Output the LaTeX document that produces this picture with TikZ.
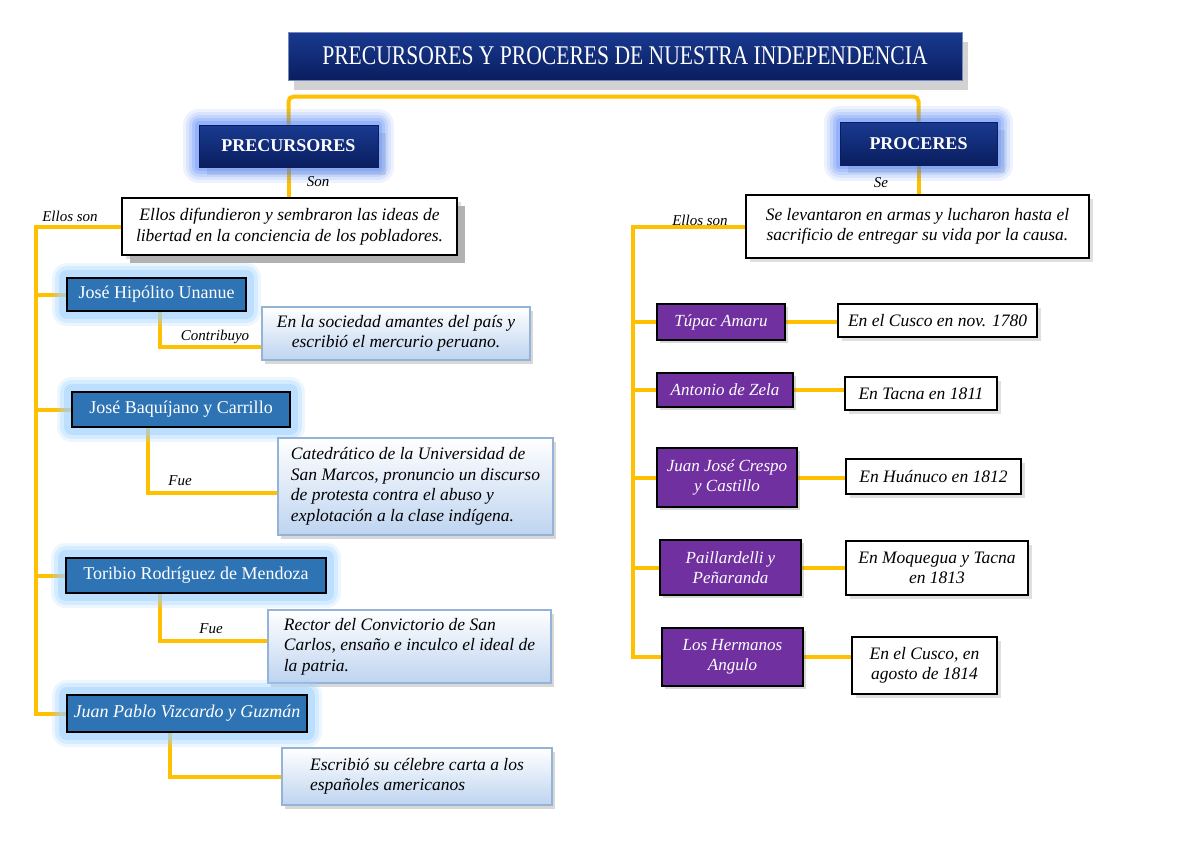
\documentclass[tikz,border=0pt]{standalone}
\usepackage{fontspec}
\setmainfont{Liberation Serif}
\newfontfamily\titlefont[FakeStretch=0.8]{Liberation Serif}
\usetikzlibrary{shadows,backgrounds}
\definecolor{navy}{RGB}{10,30,95}
\definecolor{navytop}{RGB}{25,58,145}
\definecolor{glowblue}{RGB}{80,130,250}
\definecolor{glowlight}{RGB}{160,210,255}
\definecolor{namefill}{RGB}{46,116,181}
\definecolor{purp}{RGB}{112,48,160}
\definecolor{gold}{RGB}{255,192,0}
\definecolor{paleblue}{RGB}{190,212,240}
\definecolor{edgeblue}{RGB}{149,179,215}
\tikzset{>=stealth,
  link/.style={draw=gold, line width=4pt},
  glow/.style={preaction={draw=#1, line width=32pt, opacity=0.1, line join=round},
    preaction={draw=#1, line width=26pt, opacity=0.12, line join=round},
    preaction={draw=#1, line width=20pt, opacity=0.15, line join=round},
    preaction={draw=#1, line width=14pt, opacity=0.2, line join=round},
    preaction={draw=#1, line width=8pt, opacity=0.25, line join=round}},
  halo/.style={preaction={draw=#1, line width=30pt, opacity=0.2, line join=round},
    preaction={draw=#1, line width=24pt, opacity=0.3, line join=round},
    preaction={draw=#1, line width=16pt, opacity=0.45, line join=round}},
  headbox/.style={drop shadow={shadow xshift=8pt, shadow yshift=-8pt, opacity=0.2},
    glow=glowblue, draw=navy, line width=0.8pt, top color=navytop, bottom color=navy,
    text=white, font=\fontsize{18}{21}\selectfont\bfseries},
  namebox/.style={halo=glowlight, draw=black, line width=1.6pt, fill=namefill,
    text=white, font=\fontsize{18}{21}\selectfont},
  factbox/.style={drop shadow={shadow xshift=3pt, shadow yshift=-3pt, opacity=0.3},
    draw=black, line width=1.6pt, fill=purp, text=white, align=center,
    font=\fontsize{17}{20}\selectfont\itshape},
  descbox/.style={drop shadow={shadow xshift=3pt, shadow yshift=-4pt, opacity=0.3},
    draw=edgeblue, line width=1.4pt, top color=white, bottom color=paleblue,
    font=\fontsize{17.5}{20.5}\selectfont\itshape},
  whitebox/.style={drop shadow={shadow xshift=4pt, shadow yshift=-4pt, opacity=0.25},
    draw=black, line width=1.4pt, fill=white, align=center,
    font=\fontsize{17.5}{20.5}\selectfont\itshape},
  tag/.style={font=\fontsize{15}{17}\selectfont\itshape}
}
\begin{document}
\begin{tikzpicture}[x=1pt, y=-1pt]
    \useasboundingbox (0,0) rectangle (1200,849);
    \node[drop shadow={shadow xshift=6pt, shadow yshift=-10pt, fill=gray!70, opacity=0.5},
      draw=navytop!60!white, line width=1pt, top color=navytop, bottom color=navy,
      minimum width=674, minimum height=48, text=white,
      font=\titlefont\fontsize{27}{30}\selectfont] (title) at (625,56)
      {PRECURSORES Y PROCERES DE NUESTRA INDEPENDENCIA};
    \node[headbox, minimum width=179, minimum height=42] (prec) at (288.5,146) {PRECURSORES};
    \node[headbox, minimum width=157, minimum height=43] (proc) at (918.5,143.5) {PROCERES};
    \node[whitebox, drop shadow={shadow xshift=8pt, shadow yshift=-8pt, fill=gray!60, opacity=1},
      minimum width=335, minimum height=57] (pdesc) at (289.5,226.5)
      {Ellos difundieron y sembraron las ideas de\\ libertad en la conciencia de los pobladores.};
    \node[whitebox, minimum width=343, minimum height=63] (rdesc) at (917.5,226.5)
      {Se levantaron en armas y lucharon hasta el\\ sacrificio de entregar su vida por la causa.};

    \node[namebox, minimum width=179, minimum height=33] (unanue) at (156.5,294.5) {José Hipólito Unanue};
    \node[descbox, align=center, minimum width=268, minimum height=53] (unanueD) at (396,333.5)
      {En la sociedad amantes del país y\\ escribió el mercurio peruano.};
    \node[namebox, minimum width=218, minimum height=35] (baqui) at (181,409.5) {José Baquíjano y Carrillo};
    \node[descbox, align=left, minimum width=275, minimum height=97] (baquiD) at (415.5,486.5)
      {Catedrático de la Universidad de\\ San Marcos, pronuncio un discurso\\ de protesta contra el abuso y\\ explotación a la clase indígena.};
    \node[namebox, minimum width=260, minimum height=35] (toribio) at (196,575.5) {Toribio Rodríguez de Mendoza};
    \node[descbox, align=left, minimum width=283, minimum height=73] (toribioD) at (409.5,646.5)
      {Rector del Convictorio de San\\ Carlos, ensaño e inculco el ideal de\\ la patria.};
    \node[namebox, minimum width=240, minimum height=37] (vizcardo) at (187,713.5) {\itshape Juan Pablo Vizcardo y Guzmán};
    \node[descbox, align=left, minimum width=270, minimum height=57] (vizcardoD) at (417,776.5)
      {Escribió su célebre carta a los\\ españoles americanos};

    \node[factbox, minimum width=128, minimum height=36] (tupac) at (721,322) {Túpac Amaru};
    \node[whitebox, minimum width=199, minimum height=33] (tupacD) at (937.5,320.5) {En el Cusco en nov. 1780};
    \node[factbox, minimum width=136, minimum height=34] (zela) at (725,390) {Antonio de Zela};
    \node[whitebox, minimum width=152, minimum height=33] (zelaD) at (921,393.5) {En Tacna en 1811};
    \node[factbox, minimum width=140, minimum height=59] (crespo) at (727,477.5) {Juan José Crespo\\ y Castillo};
    \node[whitebox, minimum width=175, minimum height=35] (crespoD) at (933.5,476.5) {En Huánuco en 1812};
    \node[factbox, minimum width=141, minimum height=55] (paill) at (730.5,567.5) {Paillardelli y\\ Peñaranda};
    \node[whitebox, minimum width=182, minimum height=54] (paillD) at (937,568) {En Moquegua y Tacna\\ en 1813};
    \node[factbox, minimum width=141, minimum height=58] (angulo) at (732.5,657) {Los Hermanos\\ Angulo};
    \node[whitebox, minimum width=145, minimum height=57] (anguloD) at (924.5,665.5) {En el Cusco, en\\ agosto de 1814};

    \node[tag] (son) at (318,182) {Son};
    \node[tag] (se) at (881,183) {Se};
    \node[tag] (lson) at (70,216) {Ellos son};
    \node[tag] (rson) at (700,220) {Ellos son};
    \node[tag] (contrib) at (215,337) {Contribuyo};
    \node[tag] (fue1) at (180,481) {Fue};
    \node[tag] (fue2) at (211,629) {Fue};

    \coordinate (lspine) at (37,232);
    \coordinate (rspine) at (634,234);
    \begin{pgfonlayer}{background}
    \fill[white] (0,0) rectangle (1200,849);
    \draw[link, rounded corners=5pt] (prec.north) -- ++(0,-28) -| (proc.north);
    \draw[link] (prec.south) -- (prec.south |- pdesc.north);
    \draw[link] (proc.south) -- (proc.south |- rdesc.north);
    \draw[link] (pdesc.west) -- ++(-85,0) |- (vizcardo.west);
    \draw[link] (rdesc.west) -- ++(-112,0) |- (angulo.west);
    \foreach \n in {unanue,baqui,toribio}
      \draw[link] (\n.west) -- (\n.west -| lspine);
    \foreach \n in {tupac,zela,crespo,paill}
      \draw[link] (\n.west) -- (\n.west -| rspine);
    \foreach \n in {tupac,zela,crespo,paill,angulo}
      \draw[link] (\n.east) -- (\n.east -| \n D.west);
    \draw[link] ([xshift=3.5pt]unanue.south) |- ([yshift=-13.5pt]unanueD.west);
    \draw[link] ([xshift=-33pt]baqui.south) |- ([yshift=-6.5pt]baquiD.west);
    \draw[link] ([xshift=-36pt]toribio.south) |- ([yshift=5.5pt]toribioD.west);
    \draw[link] ([xshift=-17pt]vizcardo.south) |- (vizcardoD.west);
    \end{pgfonlayer}
\end{tikzpicture}
\end{document}
